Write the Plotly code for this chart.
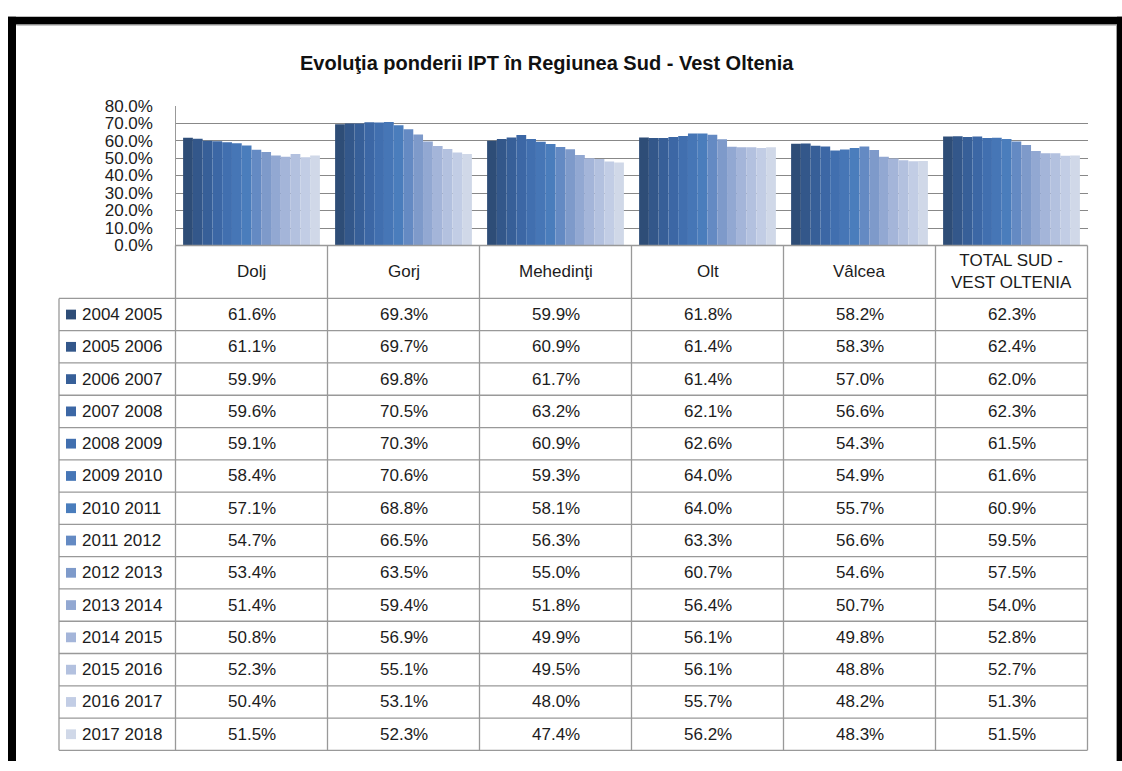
import plotly.graph_objects as go

W, H = 1122, 771

title = "Evoluţia ponderii IPT în Regiunea Sud - Vest Oltenia"
categories = ["Dolj", "Gorj", "Mehedinţi", "Olt", "Vâlcea", "TOTAL SUD -<br>VEST OLTENIA"]
series_names = ["2004 2005", "2005 2006", "2006 2007", "2007 2008", "2008 2009",
                "2009 2010", "2010 2011", "2011 2012", "2012 2013", "2013 2014",
                "2014 2015", "2015 2016", "2016 2017", "2017 2018"]
s2004 = [0.616, 0.693, 0.599, 0.618, 0.582, 0.623]
s2005 = [0.611, 0.697, 0.609, 0.614, 0.583, 0.624]
s2006 = [0.599, 0.698, 0.617, 0.614, 0.570, 0.620]
s2007 = [0.596, 0.705, 0.632, 0.621, 0.566, 0.623]
s2008 = [0.591, 0.703, 0.609, 0.626, 0.543, 0.615]
s2009 = [0.584, 0.706, 0.593, 0.640, 0.549, 0.616]
s2010 = [0.571, 0.688, 0.581, 0.640, 0.557, 0.609]
s2011 = [0.547, 0.665, 0.563, 0.633, 0.566, 0.595]
s2012 = [0.534, 0.635, 0.550, 0.607, 0.546, 0.575]
s2013 = [0.514, 0.594, 0.518, 0.564, 0.507, 0.540]
s2014 = [0.508, 0.569, 0.499, 0.561, 0.498, 0.528]
s2015 = [0.523, 0.551, 0.495, 0.561, 0.488, 0.527]
s2016 = [0.504, 0.531, 0.480, 0.557, 0.482, 0.513]
s2017 = [0.515, 0.523, 0.474, 0.562, 0.483, 0.515]
series_values = [s2004, s2005, s2006, s2007, s2008, s2009, s2010,
                 s2011, s2012, s2013, s2014, s2015, s2016, s2017]
colors = ["#2E4D77", "#33578A", "#375F98", "#3C67A5", "#416FAF", "#4676B6", "#4A7DBC",
          "#648AC3", "#7E9ACA", "#92A8D2", "#A4B5D9", "#B3C1DF", "#C2CDE5", "#D0D8E8"]

FONT = "Liberation Sans, Arial, sans-serif"
TXT = "#1c1c1c"
LINE = "#999999"
FS = 17


def px(x):
    return x / W


def py(y):
    return 1 - y / H


# layout geometry (page pixels)
PL, PR, PT, PB = 175.5, 1087.5, 99, 242.5
TL = 59
HEAD_B = 296.7
ROW_H = 33.1

fig = go.Figure()
for name, vals, c in zip(series_names, series_values, colors):
    fig.add_trace(go.Bar(x=categories, y=vals, name=name, marker=dict(color=c, line=dict(width=0)),
                         showlegend=False, hoverinfo="skip"))

shapes = []
annotations = []

# frame
for x0, y0, x1, y1 in [(8, 8, 16, 771), (8, 8, 1122, 16), (1117, 8, 1122, 771)]:
    shapes.append(dict(type="rect", xref="paper", yref="paper", x0=px(x0), x1=px(x1),
                       y0=py(y1), y1=py(y0), fillcolor="black", line=dict(width=0), layer="above"))
# thin grey inner edge of the frame
shapes.append(dict(type="line", xref="paper", yref="paper", x0=px(16.5), x1=px(1116.5),
                   y0=py(16.5), y1=py(16.5), line=dict(color="#a0a0a0", width=1)))
shapes.append(dict(type="line", xref="paper", yref="paper", x0=px(1116.5), x1=px(1116.5),
                   y0=py(16.5), y1=py(771), line=dict(color="#a0a0a0", width=1)))

ncol = len(categories)
colw = (PR - PL) / ncol
nrow = len(series_names)
TB = HEAD_B + nrow * ROW_H


def hline(x0, x1, y):
    shapes.append(dict(type="line", xref="paper", yref="paper", x0=px(x0), x1=px(x1),
                       y0=py(y), y1=py(y), line=dict(color=LINE, width=1.3)))


def vline(x, y0, y1):
    shapes.append(dict(type="line", xref="paper", yref="paper", x0=px(x), x1=px(x),
                       y0=py(y0), y1=py(y1), line=dict(color=LINE, width=1.3)))


# table grid
hline(PL, PR, PB)
for i in range(nrow + 1):
    hline(TL, PR, HEAD_B + i * ROW_H)
for j in range(ncol + 1):
    vline(PL + j * colw, PB, TB)
vline(TL, HEAD_B, TB)

# header labels
for j, cat in enumerate(categories):
    annotations.append(dict(x=px(PL + (j + 0.5) * colw), y=py((PB + HEAD_B) / 2), xref="paper", yref="paper",
                            text=cat, showarrow=False, font=dict(family=FONT, size=FS, color=TXT),
                            xanchor="center", yanchor="middle"))

# rows
for i, (name, vals, c) in enumerate(zip(series_names, series_values, colors)):
    yc = HEAD_B + (i + 0.5) * ROW_H
    shapes.append(dict(type="rect", xref="paper", yref="paper", x0=px(66), x1=px(76),
                       y0=py(yc + 5), y1=py(yc - 5), fillcolor=c, line=dict(width=0)))
    annotations.append(dict(x=px(80), y=py(yc), xref="paper", yref="paper", text=name, showarrow=False,
                            font=dict(family=FONT, size=FS, color=TXT), xanchor="left", yanchor="middle"))
    for j, v in enumerate(vals):
        annotations.append(dict(x=px(PL + (j + 0.5) * colw), y=py(yc), xref="paper", yref="paper",
                                text=f"{v * 100:.1f}%", showarrow=False,
                                font=dict(family=FONT, size=FS, color=TXT), xanchor="center", yanchor="middle"))

# title
annotations.append(dict(x=px(547), y=py(55), xref="paper", yref="paper", text="<b>" + title + "</b>",
                        showarrow=False, font=dict(family=FONT, size=20, color="#111111"),
                        xanchor="center", yanchor="middle"))

fig.update_layout(
    width=W, height=H, margin=dict(l=0, r=0, t=0, b=0),
    paper_bgcolor="white", plot_bgcolor="white",
    barmode="group", bargap=0.1, bargroupgap=0,
    xaxis=dict(domain=[px(PL), px(PR)], showticklabels=False, showgrid=False, zeroline=False,
               showline=False, ticks=""),
    yaxis=dict(domain=[py(PB), py(PT)], range=[0, 0.8], dtick=0.1, tickformat=".1%",
               showgrid=True, gridcolor="#888888", gridwidth=1.3, zeroline=False,
               showline=True, linecolor=LINE, linewidth=1.3, ticks="", ticklabelstandoff=18,
               tickfont=dict(family=FONT, size=17, color=TXT)),
    shapes=shapes, annotations=annotations,
)

fig.write_html("out.html", config={"displayModeBar": False},
               post_script="document.documentElement.style.margin='0';document.body.style.margin='0';"
                           "document.body.style.overflow='hidden';")
